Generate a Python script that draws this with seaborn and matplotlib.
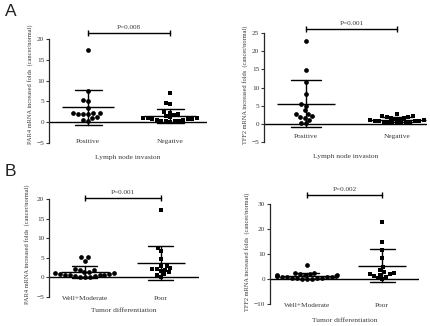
import numpy as np
import pandas as pd
import matplotlib
matplotlib.use("Agg")
import matplotlib.pyplot as plt
import seaborn as sns

# values (fold change, cancer/normal)
par4_lymph_pos = [17.3, 7.5, 5.3, 5.1, 3.3, 2.2, 2.0, 2.1, 1.9, 2.0, 2.1, 1.2, 1.0, 0.5, 0.3]
par4_lymph_neg = [6.9, 4.7, 4.3, 2.4, 2.3, 1.9, 1.8, 1.5, 1.2, 1.0, 0.9, 0.9, 0.8, 0.8,
                  0.7, 0.6, 0.5, 0.4, 0.3, 0.2, 0.2, 0.1]
tff2_lymph_pos = [22.8, 14.9, 11.6, 8.2, 5.5, 5.0, 3.7, 2.7, 2.6, 2.1, 2.0, 1.5, 1.0, 0.2, 0.1]
tff2_lymph_neg = [2.8, 2.3, 2.1, 2.0, 1.8, 1.6, 1.5, 1.4, 1.2, 1.1, 1.0, 0.9, 0.8, 0.8,
                  0.7, 0.6, 0.5, 0.5, 0.4, 0.3, 0.2, 0.1]
par4_diff_wm = [5.3, 5.1, 4.3, 2.2, 2.0, 1.8, 1.5, 1.3, 1.1, 1.0, 0.9, 0.8, 0.7, 0.6,
                0.5, 0.5, 0.4, 0.3, 0.2, 0.1, 0.1]
par4_diff_poor = [17.2, 7.6, 6.8, 4.7, 3.0, 2.8, 2.3, 2.2, 2.1, 2.0, 1.7, 1.3, 0.9, 0.7, 0.2]
tff2_diff_wm = [5.6, 2.6, 2.4, 2.2, 2.0, 1.8, 1.6, 1.5, 1.3, 1.2, 1.1, 1.0, 0.9, 0.8,
                0.7, 0.6, 0.5, 0.4, 0.3, 0.2, 0.1, 0.1]
tff2_diff_poor = [22.9, 14.9, 11.5, 8.3, 5.0, 3.7, 2.8, 2.5, 2.2, 2.0, 1.8, 1.2, 1.0, 0.3, 0.2]

lymph_groups = ["Positive", "Negative"]
diff_groups = ["Well+Moderate", "Poor"]
p_values = ["P=0.008", "P=0.001", "P=0.001", "P=0.002"]
ylabels = ["PAR4 mRNA increased folds  (cancer/normal)",
           "TFF2 mRNA increased folds  (cancer/normal)"]

sns.set_style("ticks")
plt.rcParams["font.family"] = ["Liberation Serif", "DejaVu Serif"]
TXT = "#3a3a3a"

W, H = 430, 326
fig = plt.figure(figsize=(W / 100, H / 100), dpi=100)


def px_axes(x0, x1, ytop, ybot):
    return fig.add_axes([x0 / W, 1 - ybot / H, (x1 - x0) / W, (ybot - ytop) / H])


def panel(ax, groups, a, b, ylim, yticks, xlim, pval, bar_y, ylabel, xlabel,
          tick_pad, label_pad, ylab_xy):
    df = pd.DataFrame({"group": [groups[0]] * len(a) + [groups[1]] * len(b),
                       "value": a + b})
    ax.set_xlim(*xlim)
    ax.set_ylim(*ylim)
    sns.swarmplot(data=df[df.group == groups[0]], x="group", y="value", order=groups,
                  color="black", marker="o", size=3.4, ax=ax, warn_thresh=1)
    sns.swarmplot(data=df[df.group == groups[1]], x="group", y="value", order=groups,
                  color="black", marker="s", size=3.1, ax=ax, warn_thresh=1)
    # mean line width in points: 0.64 category units
    ax_w_px = ax.get_position().width * W
    ms = 0.64 * ax_w_px / (xlim[1] - xlim[0]) * 72 / 100
    sns.pointplot(data=df, x="group", y="value", order=groups, errorbar="sd",
                  capsize=0.33, color="black", marker="_", markersize=ms,
                  markeredgewidth=1.0, linestyle="none",
                  err_kws={"linewidth": 1.0}, ax=ax)
    ax.set_xlim(*xlim)
    ax.set_ylim(*ylim)
    ax.axhline(0, color="black", lw=1.0)
    ax.set_yticks(yticks)
    ax.spines["left"].set_bounds(yticks[0], yticks[-1])
    ax.spines["left"].set_linewidth(0.9)
    for s in ["top", "right", "bottom"]:
        ax.spines[s].set_visible(False)
    ax.tick_params(axis="y", length=2.5, width=0.8, labelsize=5.2, pad=1, colors=TXT)
    ax.tick_params(axis="x", length=0, labelsize=5.3, pad=tick_pad, colors=TXT)
    ax.set_xlabel(xlabel, fontsize=5.4, color=TXT, labelpad=label_pad)
    ax.set_ylabel(ylabel, fontsize=4.6, color=TXT)
    ax.yaxis.set_label_coords(*ylab_xy)
    # significance bar
    ax.plot([0, 1], [bar_y, bar_y], color="black", lw=1.0, marker="|",
            markersize=5, markeredgewidth=1.0, clip_on=False)
    ax.annotate(pval, xy=(0.5, bar_y), xytext=(0, 2), textcoords="offset points",
                ha="center", va="bottom", fontsize=5.2, color=TXT)


def lab_coords(ax, x_px, y_px, x0, ytop, ybot, x1):
    return ((x_px - x0) / (x1 - x0), (ybot - y_px) / (ybot - ytop))


# A left
x0, x1, yt, yb = 49, 207, 143 - 30 * 4.16, 143
ax1 = px_axes(x0, x1, yt, yb)
panel(ax1, lymph_groups, par4_lymph_pos, par4_lymph_neg, (-5, 25), [-5, 0, 5, 10, 15, 20],
      (-0.476, 1.45), p_values[0], 21.4, ylabels[0], "Lymph node invasion",
      -3.2, 8, lab_coords(ax1, 33, 84, x0, yt, yb, x1))

# A right
x0, x1, yt, yb = 264, 427, 142 - 34 * 3.63, 142
ax2 = px_axes(x0, x1, yt, yb)
panel(ax2, lymph_groups, tff2_lymph_pos, tff2_lymph_neg, (-5, 29), [-5, 0, 5, 10, 15, 20, 25],
      (-0.46, 1.33), p_values[1], 26.1, ylabels[1], "Lymph node invasion",
      -5.4, 8.6, lab_coords(ax2, 248, 85, x0, yt, yb, x1))

# B left
x0, x1, yt, yb = 49, 199, 297 - 29 * 3.92, 297
ax3 = px_axes(x0, x1, yt, yb)
panel(ax3, diff_groups, par4_diff_wm, par4_diff_poor, (-5, 24), [-5, 0, 5, 10, 15, 20],
      (-0.47, 1.5), p_values[2], 20.3, ylabels[0], "Tumor differentiation",
      -0.4, 5, lab_coords(ax3, 30, 244, x0, yt, yb, x1))

# B right
x0, x1, yt, yb = 270, 419, 304 - 49 * 2.5, 304
ax4 = px_axes(x0, x1, yt, yb)
panel(ax4, diff_groups, tff2_diff_wm, tff2_diff_poor, (-10, 39), [-10, 0, 10, 20, 30],
      (-0.49, 1.49), p_values[3], 33.6, ylabels[1], "Tumor differentiation",
      -1.0, 7.2, lab_coords(ax4, 250, 252, x0, yt, yb, x1))

fig.text(5 / W, 1 - 12 / H, "A", fontsize=12.5, family="Liberation Sans",
         color="#222222", va="center", ha="left")
fig.text(5 / W, 1 - 172 / H, "B", fontsize=12.5, family="Liberation Sans",
         color="#222222", va="center", ha="left")

fig.savefig("out.png", dpi=100)
